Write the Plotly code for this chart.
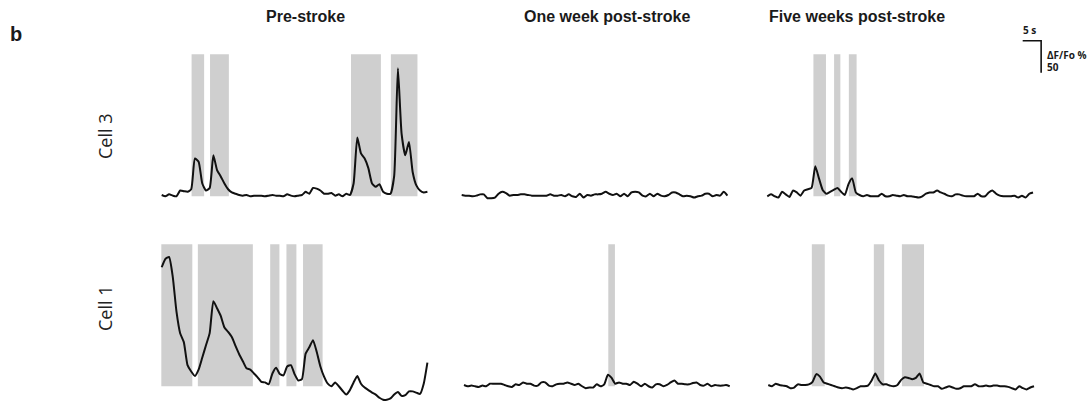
import plotly.graph_objects as go
import numpy as np

# ---------------- data (ΔF/Fo %, one sample per second) ----------------
SAMPLE_INTERVAL_S = 1.0

cell3_pre = [0, -2, 1, -1, -2, 7, 6, 5, 9, 57, 52, 18, 7, 11, 62, 39, 29, 18, 9, 4,
             2, 0, -1, 0, -2, -1, -1, -1, -2, -1, 0, -1, -1, -2, 1, -1, -2, -1, 0, 5,
             2, 11, 10, 7, 2, 2, 3, -1, 1, -2, 2, 0, 18, 90, 65, 57, 42, 18, 13, 17,
             5, 2, 2, 30, 198, 96, 62, 83, 36, 15, 7, 4, 5]
cell3_week1 = [0, -1, -1, -2, -1, 1, 1, -5, -5, -4, 2, 5, 3, -1, 0, 0, 1, 1, 0, -1,
               -1, -1, -1, -1, 1, -1, -1, 0, -2, 1, -2, -3, 2, -4, 0, -1, 1, 1, 2, 5,
               2, 0, 2, -2, 2, -2, 4, 5, 4, -1, -2, 2, -2, 2, -1, -2, 0, 4, 4, 1,
               -2, -1, -2, -4, -2, -1, 2, 2, -2, 0, -1, 5, -1]
cell3_week5 = [-2, 1, -2, -4, 5, 1, -3, 7, 4, -1, 7, 9, 11, 45, 26, 8, 2, 5, 8, 11,
               5, 0, 17, 26, 4, 0, -2, 0, -2, -2, -2, 2, -2, -2, 0, -1, -2, 0, -2, -2,
               -3, -4, -2, 2, 4, 4, 7, 4, 2, -1, -2, 1, 1, -1, -2, -2, -2, 2, -2, -2,
               4, 7, 2, -1, -2, -2, -2, -1, -4, -1, -4, 2, 4]
cell1_pre = [184, 197, 200, 169, 115, 81, 67, 31, 21, 14, 24, 43, 62, 81, 131, 120, 108, 90, 83, 75,
             61, 48, 37, 26, 24, 18, 12, 5, 4, 1, 18, 27, 17, 15, 29, 31, 17, 7, 9, 49,
             59, 70, 52, 29, 13, 2, -2, 4, -2, -9, -15, -8, 4, 14, 2, -4, -8, -12, -15, -20,
             -23, -23, -21, -15, -11, -17, -16, -10, -10, -12, -14, 2, 35]
cell1_week1 = [0, -2, -1, -2, -3, -1, -2, 2, 2, 2, 2, 0, -2, -3, 1, 0, 4, 2, 2, -1,
               -1, 4, 4, -1, -2, 1, 2, 2, 4, 2, 0, 2, -2, -5, -4, -4, 1, -2, 1, 16,
               11, 2, 4, 2, 2, 0, 5, 2, -2, 2, -2, -4, 1, 1, -2, 0, 4, 7, 2, 2,
               1, 1, 3, 4, 0, -1, 2, -2, 0, -1, -1, 0, -2]
cell1_week5 = [0, -2, 2, 0, -1, -2, -5, -4, 1, 0, 0, 1, 5, 17, 13, 4, 2, 0, -2, -4,
               -5, -4, -5, -7, -5, -2, -2, -1, 7, 18, 7, 1, 1, -1, -2, 0, 8, 12, 11, 9,
               11, 18, 4, 2, 0, -2, -2, -6, -4, -2, -4, -6, -5, -2, -2, -2, 1, -2, -2, -1,
               -2, -1, -1, -2, -2, -3, -5, -7, -2, -5, -7, -4, -2]

# shaded event windows (start s, end s)
events_cell3_pre = [(8.1, 11.5), (13.1, 18.2), (51.3, 59.4), (62.1, 69.3)]
events_cell3_week1 = []
events_cell3_week5 = [(12.5, 15.9), (18.1, 19.8), (22.1, 24.2)]
events_cell1_pre = [(-0.1, 8.3), (9.8, 24.7), (29.4, 31.9), (33.8, 36.5), (38.3, 43.6)]
events_cell1_week1 = [(39.1, 40.9)]
events_cell1_week5 = [(11.8, 15.3), (28.6, 31.4), (36.2, 42.2)]

column_titles = ["Pre-stroke", "One week post-stroke", "Five weeks post-stroke"]
row_labels = ["Cell 3", "Cell 1"]
scale_time_s = 5
scale_amp = 50
event_span = (-2, 220)

# ---------------- layout helpers ----------------
W, H = 1091, 402
def X(px): return px / W
def Y(py): return 1 - py / H

panels = [
    (cell3_pre, events_cell3_pre, (158.0, 431.1), 0),
    (cell3_week1, events_cell3_week1, (458.0, 731.1), 0),
    (cell3_week5, events_cell3_week5, (763.6, 1036.7), 0),
    (cell1_pre, events_cell1_pre, (158.0, 431.1), 1),
    (cell1_week1, events_cell1_week1, (460.3, 733.4), 1),
    (cell1_week5, events_cell1_week5, (764.6, 1037.7), 1),
]
row_px = [(50, 200), (240, 402)]
row_ranges = [[-7.8, 226.6], [-26.6, 226.6]]

fig = go.Figure()
layout = dict(width=W, height=H, margin=dict(l=0, r=0, t=0, b=0),
              paper_bgcolor="white", plot_bgcolor="white", showlegend=False)
shapes = []
hidden = dict(visible=False, showgrid=False, zeroline=False, fixedrange=True)

for i, (vals, events, (x0, x1), row) in enumerate(panels, start=1):
    t = np.arange(len(vals)) * SAMPLE_INTERVAL_S
    xa, ya = f"x{i}", f"y{i}"
    fig.add_trace(go.Scatter(x=t, y=vals, mode="lines", xaxis=xa, yaxis=ya,
                             line=dict(color="#111111", width=2, shape="spline", smoothing=0.5),
                             hoverinfo="skip"))
    ytop, ybot = row_px[row]
    layout[f"xaxis{i}"] = dict(domain=[X(x0), X(x1)], range=[-1, 73], anchor=ya, **hidden)
    layout[f"yaxis{i}"] = dict(domain=[Y(ybot), Y(ytop)], range=row_ranges[row], anchor=xa, **hidden)
    for (s, e) in events:
        shapes.append(dict(type="rect", xref=xa, yref=ya, x0=s, x1=e,
                           y0=event_span[0], y1=event_span[1],
                           fillcolor="#cfcfcf", line=dict(width=0), layer="below"))

# scale bar on its own axes with the same scales
fig.add_trace(go.Scatter(x=[0, scale_time_s, scale_time_s], y=[scale_amp, scale_amp, 0],
                         mode="lines", xaxis="x7", yaxis="y7",
                         line=dict(color="#111111", width=1.6), hoverinfo="skip"))
layout["xaxis7"] = dict(domain=[X(1010), X(1060)], range=[-3.44, 10.11], anchor="y7", **hidden)
layout["yaxis7"] = dict(domain=[Y(80), Y(25)], range=[-11.4, 74.5], anchor="x7", **hidden)

annotations = []
title_font = dict(family="Liberation Sans, Arial, sans-serif", size=16, color="#1a1a1a")
for txt, cx in zip(column_titles, [305, 607, 857]):
    annotations.append(dict(text=f"<b>{txt}</b>", x=X(cx), y=Y(17), xref="paper", yref="paper",
                            showarrow=False, xanchor="center", yanchor="middle", font=title_font))
annotations.append(dict(text="<b>b</b>", x=X(16), y=Y(34), xref="paper", yref="paper",
                        showarrow=False, xanchor="center", yanchor="middle",
                        font=dict(family="Liberation Sans, Arial, sans-serif", size=20, color="#1a1a1a")))
label_font = dict(family="Open Sans, sans-serif", size=18, color="#222222")
for txt, cy in zip(row_labels, [136, 308]):
    annotations.append(dict(text=txt, x=X(105), y=Y(cy), xref="paper", yref="paper",
                            showarrow=False, textangle=-90, xanchor="center", yanchor="middle",
                            font=label_font))
small_font = dict(family="Open Sans, sans-serif", size=10, color="#1a1a1a")
annotations.append(dict(text="<b>5 s</b>", x=X(1029), y=Y(30), xref="paper", yref="paper",
                        showarrow=False, xanchor="center", yanchor="middle", font=small_font))
annotations.append(dict(text="<b>ΔF/Fo %</b>", x=X(1045), y=Y(55), xref="paper", yref="paper",
                        showarrow=False, xanchor="left", yanchor="middle", font=small_font))
annotations.append(dict(text="<b>50</b>", x=X(1045), y=Y(67), xref="paper", yref="paper",
                        showarrow=False, xanchor="left", yanchor="middle", font=small_font))

layout["shapes"] = shapes
layout["annotations"] = annotations
fig.update_layout(**layout)
fig.write_html("out.html")
